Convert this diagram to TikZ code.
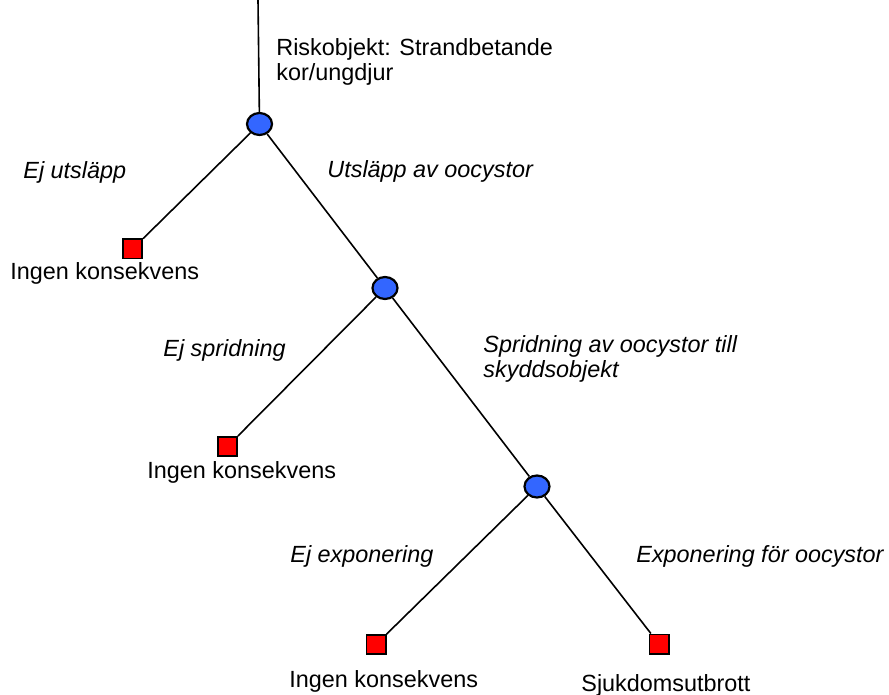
\documentclass[tikz,border=0pt]{standalone}
\usepackage{fontspec}
\setmainfont{Liberation Sans}
\usetikzlibrary{positioning, shapes.geometric}
\definecolor{chanceblue}{RGB}{51,102,255}
\definecolor{outcomered}{RGB}{255,0,0}

\begin{document}
\begin{tikzpicture}[
  x=0.5pt, y=-0.5pt,
  every node/.style={
    inner sep=0mm,
    font=\fontsize{11.7}{12.6}\selectfont
  },
  chance/.style={
    ellipse,
    draw=black,
    fill=chanceblue,
    line width=1.1pt,
    minimum width=12.5pt,
    minimum height=11pt
  },
  outcome/.style={
    rectangle,
    draw=black,
    fill=outcomered,
    line width=0.9pt,
    minimum size=9.6pt
  },
  branch label/.style={
    anchor=base west,
    font=\fontsize{11.7}{12.6}\selectfont\itshape
  },
  end label/.style={anchor=base west},
  branch/.style={draw=black, line width=0.8pt}
]

\useasboundingbox (0,0) rectangle (889,695);

% tree nodes
\coordinate (root) at (258,0);
\node(c1)[chance] at (259.5,124) {};
\node(c2)[chance] at (385,288) {};
\node(c3)[chance] at (537,486.5) {};

\node(s1)[outcome] at (132.5,249) {};
\node(s2)[outcome] at (227.5,446.5) {};
\node(s3)[outcome] at (376,644.5) {};
\node(s4)[outcome] at (659,644) {};

% edges
\draw[branch] (root) -- (c1);
\draw[branch] (c1) -- (s1);
\draw[branch] (c1) -- (c2);
\draw[branch] (c2) -- (s2);
\draw[branch] (c2) -- (c3);
\draw[branch] (c3) -- (s3);
\draw[branch] (c3) -- (s4);

% texts
\node(riskobj)[anchor=north west, align=left] at (276,38) {Riskobjekt: Strandbetande\\kor/ungdjur};

\node(ejutsl)[branch label] at (23,179) {Ej utsläpp};
\node(utsl)[branch label] at (327,178) {Utsläpp av oocystor};
\node(ejspr)[branch label] at (163,357) {Ej spridning};
\node(spr)[anchor=north west, align=left, font=\fontsize{11.7}{12.6}\selectfont\itshape] at (483,335) {Spridning av oocystor till\\skyddsobjekt};
\node(ejexp)[branch label] at (290,562) {Ej exponering};
\node(exp)[branch label] at (636,562) {Exponering för oocystor};

\node(ingen1)[end label] at (10,280) {Ingen konsekvens};
\node(ingen2)[end label] at (147,478) {Ingen konsekvens};
\node(ingen3)[end label] at (289,687) {Ingen konsekvens};
\node(sjuk)[end label] at (581,691) {Sjukdomsutbrott};

\end{tikzpicture}
\end{document}
